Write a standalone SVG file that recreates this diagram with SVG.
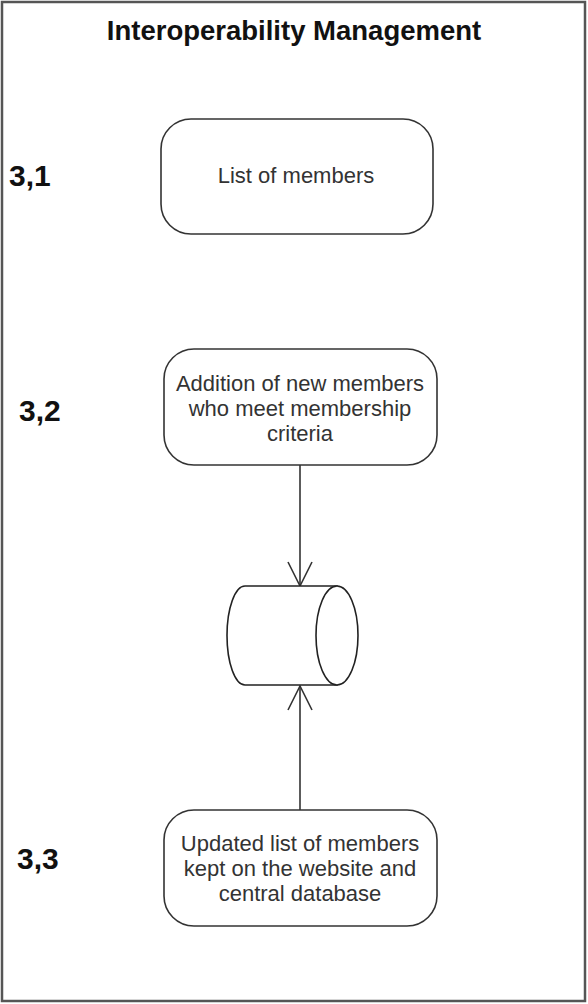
<svg xmlns="http://www.w3.org/2000/svg" width="588" height="1004" viewBox="0 0 588 1004">
  <style>
    .frame { fill: #ffffff; stroke: #555555; stroke-width: 2.5; }
    .box { fill: #ffffff; stroke: #333333; stroke-width: 1.6; }
    .shape { fill: #ffffff; stroke: #222222; stroke-width: 1.6; }
    .link { fill: none; stroke: #333333; stroke-width: 1.6; }
    .title { font-family: "Liberation Sans", Arial, sans-serif; font-weight: bold; font-size: 27.5px; fill: #111111; text-anchor: middle; }
    .step { font-family: "Liberation Sans", Arial, sans-serif; font-weight: bold; font-size: 30px; fill: #111111; }
    .label { font-family: "Liberation Sans", Arial, sans-serif; font-size: 22px; fill: #333333; text-anchor: middle; }
  </style>
  <defs>
    <marker id="open-arrow" viewBox="0 0 30 30" refX="26" refY="15" markerWidth="30" markerHeight="30" markerUnits="userSpaceOnUse" orient="auto">
      <path d="M 2 3 L 26 15 L 2 27" fill="none" stroke="#333333" stroke-width="1.6"/>
    </marker>
  </defs>

  <!-- outer frame -->
  <rect class="frame" x="2" y="2" width="583" height="999"/>
  <text class="title" x="294" y="40">Interoperability Management</text>

  <!-- step numbers -->
  <g id="steps">
    <text class="step" x="9" y="186">3,1</text>
    <text class="step" x="19" y="421">3,2</text>
    <text class="step" x="17" y="869">3,3</text>
  </g>

  <!-- connectors -->
  <g id="connectors">
    <line class="link" x1="300" y1="465" x2="300" y2="586" marker-end="url(#open-arrow)"/>
    <line class="link" x1="300" y1="810" x2="300" y2="686" marker-end="url(#open-arrow)"/>
  </g>

  <g id="node-list">
    <rect class="box" x="161" y="119" width="272" height="115" rx="30" ry="30"/>
    <text class="label" x="296" y="183">List of members</text>
  </g>

  <g id="node-addition">
    <rect class="box" x="164" y="349" width="273" height="116" rx="30" ry="30"/>
    <text class="label" x="300" y="391">Addition of new members</text>
    <text class="label" x="300" y="416">who meet membership</text>
    <text class="label" x="300" y="441">criteria</text>
  </g>

  <g id="node-store">
    <path class="shape" d="M 245 586 L 337 586 L 337 685 L 245 685 A 18 49.5 0 0 1 245 586 Z"/>
    <ellipse class="shape" cx="337" cy="635.5" rx="21" ry="49.5"/>
  </g>

  <g id="node-updated">
    <rect class="box" x="164" y="810" width="273" height="116" rx="30" ry="30"/>
    <text class="label" x="300" y="851">Updated list of members</text>
    <text class="label" x="300" y="876">kept on the website and</text>
    <text class="label" x="300" y="901">central database</text>
  </g>
</svg>
